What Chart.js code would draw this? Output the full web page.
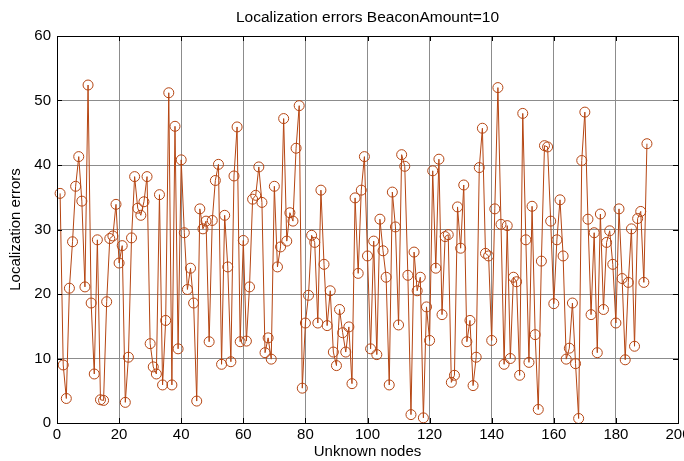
<!DOCTYPE html>
<html lang="en">
<head>
  <meta charset="UTF-8">
  <title>Localization errors</title>
  <script src="https://cdn.jsdelivr.net/npm/chart.js"></script>
  <style>
    html, body {
      margin: 0;
      padding: 0;
      background: #fff;
    }
    #wrap {
      width: 684px;
      height: 461px;
    }
  </style>
</head>
<body>
  <div id="wrap"><canvas id="errChart"></canvas></div>

  <script>
    // localization error of each unknown node (nodes 1..190)
    const errors = [
      35.6, 9.0, 3.8, 20.9, 28.1, 36.7, 41.3, 34.4, 21.1, 52.4,
      18.6, 7.6, 28.4, 3.6, 3.5, 18.8, 28.6, 29.0, 33.9, 24.8,
      27.5, 3.2, 10.2, 28.7, 38.2, 33.3, 32.2, 34.3, 38.2, 12.3,
      8.7, 7.6, 35.4, 5.9, 15.9, 51.2, 5.9, 46.0, 11.5, 40.8,
      29.5, 20.7, 24.0, 18.6, 3.4, 33.2, 30.1, 31.3, 12.6, 31.4,
      37.6, 40.1, 9.1, 32.2, 24.2, 9.5, 38.3, 45.9, 12.6, 28.3,
      12.7, 21.1, 34.7, 35.3, 39.7, 34.2, 10.9, 13.2, 9.9, 36.7,
      24.2, 27.3, 47.2, 28.2, 32.6, 31.3, 42.6, 49.2, 5.4, 15.5,
      19.8, 29.1, 28.0, 15.5, 36.1, 24.6, 15.1, 20.5, 11.0, 8.9,
      17.6, 14.0, 11.0, 14.9, 6.1, 34.9, 23.2, 36.1, 41.3, 25.9,
      11.5, 28.2, 10.6, 31.6, 26.7, 22.6, 5.9, 35.8, 30.4, 15.2,
      41.6, 39.8, 22.9, 1.3, 26.5, 20.5, 22.6, 0.8, 18.0, 12.8,
      39.1, 24.0, 40.9, 16.8, 28.9, 29.2, 6.3, 7.4, 33.5, 27.1,
      36.9, 12.6, 15.9, 5.8, 10.2, 39.6, 45.7, 26.3, 25.9, 12.8,
      33.2, 52.0, 30.8, 9.1, 30.6, 10.0, 22.6, 21.9, 7.4, 48.0,
      28.4, 9.4, 33.6, 13.7, 2.1, 25.1, 43.0, 42.8, 31.3, 18.5,
      28.4, 34.6, 25.9, 9.9, 11.6, 18.6, 9.2, 0.7, 40.7, 48.2,
      31.6, 16.8, 29.5, 10.9, 32.4, 17.6, 28.0, 29.8, 24.6, 15.5,
      33.2, 22.4, 9.8, 21.8, 30.1, 11.9, 31.7, 32.8, 21.8, 43.3
    ];
    const xTicks = [0, 20, 40, 60, 80, 100, 120, 140, 160, 180, 200];
    const yTicks = [0, 10, 20, 30, 40, 50, 60];
    const titleText = 'Localization errors BeaconAmount=10';

    const lineColor = 'rgb(181, 69, 18)';
    const fontFamily = '"Liberation Sans", Arial, sans-serif';

    const points = errors.map((v, i) => ({ x: i + 1, y: v }));

    // black frame round the plot area, inward tick marks and a title
    // centred over the axes (matlab style)
    const boxPlugin = {
      id: 'boxPlugin',
      afterDraw(chart) {
        const { ctx, chartArea: a, scales } = chart;
        ctx.save();
        ctx.strokeStyle = '#000';
        ctx.lineWidth = 1;
        ctx.strokeRect(a.left + 0.5, a.top + 0.5, a.right - a.left, a.bottom - a.top);
        const len = 5;
        ctx.beginPath();
        xTicks.forEach(t => {
          const px = Math.round(scales.x.getPixelForValue(t)) + 0.5;
          ctx.moveTo(px, a.bottom);
          ctx.lineTo(px, a.bottom - len);
          ctx.moveTo(px, a.top);
          ctx.lineTo(px, a.top + len);
        });
        yTicks.forEach(t => {
          const py = Math.round(scales.y.getPixelForValue(t)) + 0.5;
          ctx.moveTo(a.left, py);
          ctx.lineTo(a.left + len, py);
          ctx.moveTo(a.right, py);
          ctx.lineTo(a.right - len, py);
        });
        ctx.stroke();

        ctx.fillStyle = '#000';
        ctx.font = '15.5px ' + fontFamily;
        ctx.textAlign = 'center';
        ctx.textBaseline = 'middle';
        ctx.fillText(titleText, (a.left + a.right) / 2, 18);
        ctx.restore();
      }
    };

    new Chart(document.getElementById('errChart').getContext('2d'), {
      type: 'scatter',
      data: {
        datasets: [{
          label: 'errors',
          data: points,
          showLine: true,
          borderColor: lineColor,
          borderWidth: 1,
          pointRadius: 5,
          pointHoverRadius: 5,
          pointBorderColor: lineColor,
          pointBackgroundColor: 'rgba(0,0,0,0)',
          pointBorderWidth: 1,
          clip: false
        }]
      },
      options: {
        responsive: true,
        maintainAspectRatio: false,
        animation: false,
        layout: { padding: { left: 0, right: 4, top: 36, bottom: 0 } },
        plugins: {
          legend: { display: false },
          tooltip: { enabled: false },
          title: { display: false }
        },
        scales: {
          x: {
            type: 'linear',
            min: 0,
            max: 200,
            afterBuildTicks: s => { s.ticks = xTicks.map(v => ({ value: v })); },
            afterFit: s => {
              s.height = 38;
              s.paddingLeft = 0;
              s.paddingRight = 0;
            },
            ticks: {
              color: '#000',
              font: { family: fontFamily, size: 15 },
              padding: 3,
              maxRotation: 0
            },
            grid: { color: '#8c8c8c', lineWidth: 1, drawTicks: false },
            border: { display: false },
            title: {
              display: true,
              text: 'Unknown nodes',
              color: '#000',
              font: { family: fontFamily, size: 15 },
              padding: { top: 0, bottom: 0 }
            }
          },
          y: {
            type: 'linear',
            min: 0,
            max: 60,
            afterBuildTicks: s => { s.ticks = yTicks.map(v => ({ value: v })); },
            afterFit: s => {
              s.width = 57;
              s.paddingTop = 0;
              s.paddingBottom = 0;
            },
            ticks: {
              color: '#000',
              font: { family: fontFamily, size: 15 },
              padding: 6
            },
            grid: { color: '#8c8c8c', lineWidth: 1, drawTicks: false },
            border: { display: false },
            title: {
              display: true,
              text: 'Localization errors',
              color: '#000',
              font: { family: fontFamily, size: 15 },
              padding: { top: 7, bottom: 0 }
            }
          }
        }
      },
      plugins: [boxPlugin]
    });
  </script>
</body>
</html>
